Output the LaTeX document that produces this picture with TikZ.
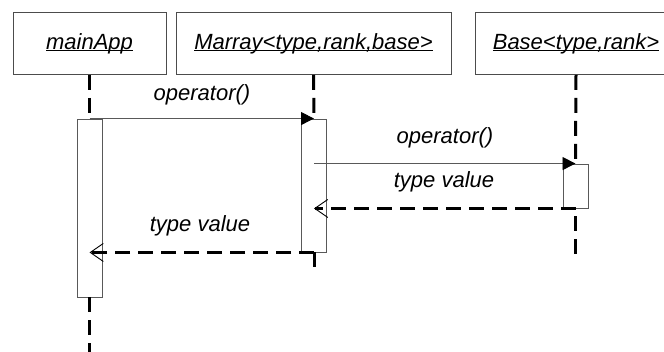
\documentclass[tikz,border=0pt]{standalone}
\usepackage{fontspec}
\setmainfont{Liberation Sans}
\usetikzlibrary{arrows.meta}
\newcommand{\ulx}[1]{\setbox0\hbox{#1}\rlap{\rule[-1.8pt]{\wd0}{0.9pt}}\box0}
\begin{document}
\begin{tikzpicture}[x=1pt,y=-1pt,
  font=\fontsize{22}{26}\selectfont\itshape,
  objbox/.style={draw=black!70, line width=0.9pt, minimum width=#1, minimum height=62pt, inner sep=0pt},
  actbox/.style={draw=black!65, fill=white, line width=0.9pt, inner sep=0pt, minimum width=25pt, minimum height=#1},
  life/.style={line width=3pt, dash pattern=on 15pt off 8pt},
  call/.style={draw=black!65, line width=0.9pt, -{Triangle[length=13pt,width=13pt,color=black]}},
  ret/.style={line width=3pt, dash pattern=on 15pt off 8pt, -{Straight Barb[length=13pt,width=18pt,line width=0.9pt]}},
  lbl/.style={inner sep=0pt}]
\clip (0,0) rectangle (664,351);
% objects
\node[objbox=153pt] (oA) at (89.5,43.5) {\ulx{mainApp}};
\node[objbox=275pt] (oM) at (313.5,43.5) {\ulx{Marray<type,rank,base>}};
\node[objbox=202pt] (oB) at (576,43.5) {\ulx{Base<type,rank>}};
% activations
\node[actbox=178pt] (aA) at (89.5,208) {};
\node[actbox=133pt] (aM) at (314,185.5) {};
\node[actbox=44pt] (aB) at (575.5,186) {};
\coordinate (eA) at (89.5,355);
\coordinate (eM) at (314,268);
\coordinate (eB) at (575.5,255);
% lifelines
\draw[life] (oA.south) -- (aA.north);
\draw[life] (aA.south) -- (eA);
\draw[life] (oM.south) -- (aM.north);
\draw[life] (aM.south) -- (eM);
\draw[life] (oB.south) -- (aB.north);
\draw[life, dash phase=15pt] (aB.south) -- (eB);
% messages
\draw[call] (aA.north) -- (aM.north);
\draw[call] (aM.north |- aB.north) -- (aB.north);
\draw[ret] (aB.south) -- (aM.north |- aB.south);
\draw[ret] (aM.south) -- (aA.north |- aM.south);
% labels
\node[lbl] (l1) at (202,95) {operator()};
\node[lbl] (l2) at (445,138) {operator()};
\node[lbl] (l3) at (444,182) {type value};
\node[lbl] (l4) at (200,226) {type value};
\end{tikzpicture}
\end{document}
